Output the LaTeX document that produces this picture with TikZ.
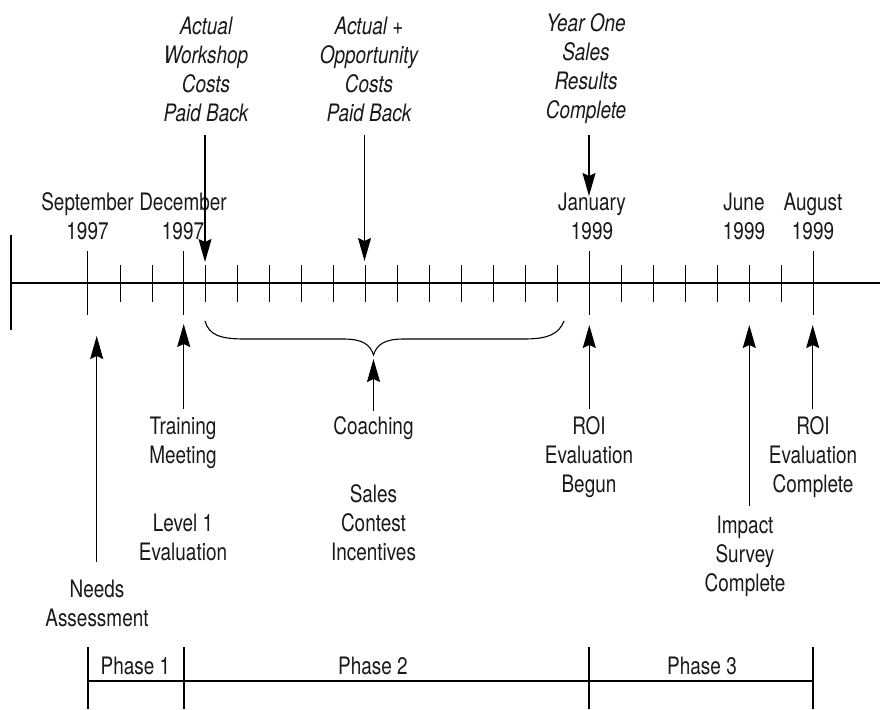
\documentclass[tikz,border=0pt]{standalone}
\usepackage{fontspec}
\setmainfont{TeX Gyre Heros}[FakeStretch=0.79]
\usetikzlibrary{arrows.meta}
\begin{document}
\begin{tikzpicture}[x=1pt,y=-1pt,
  lbl/.style={font=\fontsize{24}{29}\selectfont, align=center, inner sep=0pt, text=black!90},
  ilbl/.style={font=\fontsize{24}{29}\selectfont\itshape, align=center, inner sep=0pt, text=black!90},
  axisline/.style={line width=1.2pt},
  tickline/.style={line width=1pt},
  arr/.style={line width=1.4pt, -{Stealth[length=23pt,width=13pt,inset=3pt]}},
  plainline/.style={line width=1.4pt}]
\useasboundingbox (0,0) rectangle (880,709);

% axis
\coordinate (axL) at (11,283);
\coordinate (axR) at (880,283);
\draw[axisline] (axL) -- (axR);
\draw[axisline] (11,235) -- (11,330);
% major ticks
\foreach \x in {87.7,183.7,589.3,813.3}
  \draw[tickline] (\x,251) -- (\x,315);
% minor ticks
\foreach \x in {120,152,205,237,269,301,333.3,365.3,397.3,429.3,461.7,493.3,525.7,557.3,621.3,653.3,685.3,717.3,749.3,781.3}
  \draw[tickline] (\x,265) -- (\x,302);

% month labels
\node[lbl] (sep) at (87.5,216.5) {September\\1997};
\node[lbl] (dec) at (183,216.5) {December\\1997};
\node[lbl] (jan) at (592,216.5) {January\\1999};
\node[lbl] (jun) at (744,216.5) {June\\1999};
\node[lbl] (aug) at (813,216.5) {August\\1999};

% top italic labels
\node[ilbl] (ws) at (206,69) {Actual\\Workshop\\Costs\\Paid Back};
\node[ilbl] (opp) at (369,69) {Actual +\\Opportunity\\Costs\\Paid Back};
\node[ilbl] (yr) at (586,69) {Year One\\Sales\\Results\\Complete};

\coordinate (wsS) at (205,135);  \coordinate (wsT) at (205,262);
\coordinate (oppS) at (364.5,135); \coordinate (oppT) at (364.5,261);
\coordinate (yrS) at (589,135);  \coordinate (yrT) at (589,196);
\draw[arr] (wsS) -- (wsT);
\draw[arr] (oppS) -- (oppT);
\draw[arr] (yrS) -- (yrT);

% brace
\coordinate (brL) at (205,321);
\coordinate (brM) at (373.5,355);
\coordinate (brR) at (564,321);
\draw[line width=1.1pt] (brL) .. controls (209,335) and (220,339) .. (245,339)
  -- (343,339) .. controls (362,339) and (370,344) .. (brM)
  .. controls (377,344) and (385,339) .. (404,339)
  -- (524,339) .. controls (548,339) and (559,334) .. (brR);

% bottom labels
\node[lbl] (train) at (183,442.5) {Training\\Meeting};
\node[lbl] (lev) at (183,537) {Level 1\\Evaluation};
\node[lbl] (coach) at (373.5,428) {Coaching};
\node[lbl] (sales) at (373.5,522.5) {Sales\\Contest\\Incentives};
\node[lbl] (needs) at (97,603) {Needs\\Assessment};
\node[lbl] (roib) at (589,457) {ROI\\Evaluation\\Begun};
\node[lbl] (imp) at (745,556) {Impact\\Survey\\Complete};
\node[lbl] (roic) at (813,457.5) {ROI\\Evaluation\\Complete};

\coordinate (needsS) at (96.7,562);  \coordinate (needsT) at (96.7,336);
\coordinate (trainS) at (183.7,409); \coordinate (trainT) at (183.7,324);
\coordinate (coachS) at (373.5,411); \coordinate (coachT) at (373.5,359);
\coordinate (roibS) at (589.3,409);  \coordinate (roibT) at (589.3,325);
\coordinate (impS) at (749.3,506);   \coordinate (impT) at (749.3,325);
\coordinate (roicS) at (812.7,409);  \coordinate (roicT) at (812.7,325);
\draw[arr] (needsS) -- (needsT);
\draw[arr] (trainS) -- (trainT);
\draw[arr] (coachS) -- (coachT);
\draw[arr] (roibS) -- (roibT);
\draw[arr] (impS) -- (impT);
\draw[arr] (roicS) -- (roicT);

% phase bar
\coordinate (p0) at (88,647); \coordinate (p0b) at (88,709);
\coordinate (p1) at (184,647); \coordinate (p1b) at (184,709);
\coordinate (p2) at (589,647); \coordinate (p2b) at (589,709);
\coordinate (p3) at (813,647); \coordinate (p3b) at (813,709);
\draw[axisline] (p0) -- (p0b);
\draw[axisline] (p1) -- (p1b);
\draw[axisline] (p2) -- (p2b);
\draw[axisline] (p3) -- (p3b);
\draw[axisline] (88,681) -- (813,681);
\node[lbl] (ph1) at (135.5,666) {Phase 1};
\node[lbl] (ph2) at (373,666) {Phase 2};
\node[lbl] (ph3) at (702,666) {Phase 3};
\end{tikzpicture}
\end{document}
